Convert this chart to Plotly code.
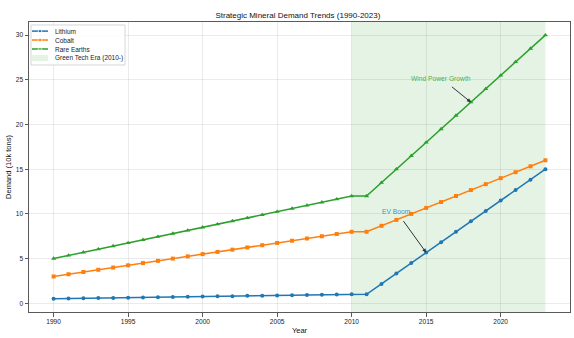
import plotly.graph_objects as go

years = list(range(1990, 2024))
lithium = [0.5, 0.53, 0.55, 0.58, 0.6, 0.63, 0.65, 0.68, 0.7, 0.73, 0.75, 0.78, 0.8, 0.83, 0.85,
           0.88, 0.9, 0.93, 0.95, 0.98, 1.0, 1.0,
           2.17, 3.33, 4.5, 5.67, 6.83, 8.0, 9.17, 10.33, 11.5, 12.67, 13.83, 15.0]
cobalt = [3.0, 3.25, 3.5, 3.75, 4.0, 4.25, 4.5, 4.75, 5.0, 5.25, 5.5, 5.75, 6.0, 6.25, 6.5,
          6.75, 7.0, 7.25, 7.5, 7.75, 8.0, 8.0,
          8.67, 9.33, 10.0, 10.67, 11.33, 12.0, 12.67, 13.33, 14.0, 14.67, 15.33, 16.0]
rare_earths = [5.0, 5.35, 5.7, 6.05, 6.4, 6.75, 7.1, 7.45, 7.8, 8.15, 8.5, 8.85, 9.2, 9.55, 9.9,
               10.25, 10.6, 10.95, 11.3, 11.65, 12.0, 12.0,
               13.5, 15.0, 16.5, 18.0, 19.5, 21.0, 22.5, 24.0, 25.5, 27.0, 28.5, 30.0]
series_names = ["Lithium", "Cobalt", "Rare Earths"]
era_label = "Green Tech Era (2010-)"
era_start, era_end = 2010, 2023
x_ticks = [1990, 1995, 2000, 2005, 2010, 2015, 2020]
y_ticks = [0, 5, 10, 15, 20, 25, 30]

colors = ["#1f77b4", "#ff7f0e", "#2ca02c"]
symbols = ["circle", "square", "triangle-up"]
msizes = [4, 4, 4.5]
shade = "rgba(44,160,44,0.12)"

xr = [1988.35, 2024.65]
yr = [-0.975, 31.475]

FONT = "Liberation Sans, Arial, sans-serif"
fig = go.Figure()

# shaded era (first so it sits under the lines)
fig.add_trace(go.Scatter(x=[era_start, era_end, era_end, era_start, era_start],
                         y=[yr[0], yr[0], yr[1], yr[1], yr[0]],
                         name=era_label, mode="lines", fill="toself",
                         fillcolor=shade, line=dict(width=0),
                         hoverinfo="skip", showlegend=False))

for name, vals, c, s, ms in zip(series_names, [lithium, cobalt, rare_earths], colors, symbols, msizes):
    fig.add_trace(go.Scatter(x=years, y=vals, name=name, mode="lines+markers",
                             line=dict(color=c, width=1.5),
                             marker=dict(symbol=s, size=ms, color=c), showlegend=False))

# ---- compact legend, drawn on an overlay axis spanning [0, 1] of the plot area ----
row_y = [0.9686, 0.9379, 0.9069, 0.8759]
lx0, lx1, lxm, ltx = 0.0055, 0.0351, 0.0203, 0.0444
bx0, bx1, by0, by1 = 0.0037, 0.1775, 0.8517, 0.9897
fig.add_trace(go.Scatter(x=[bx0, bx1, bx1, bx0, bx0], y=[by0, by0, by1, by1, by0],
                         mode="lines", fill="toself", fillcolor="rgba(255,255,255,0.85)",
                         line=dict(color="#d6d6d6", width=1), xaxis="x2", yaxis="y2",
                         hoverinfo="skip", showlegend=False))
for i, (c, s, ms) in enumerate(zip(colors, symbols, msizes)):
    fig.add_trace(go.Scatter(x=[lx0, lxm, lx1], y=[row_y[i]] * 3, mode="lines+markers",
                             line=dict(color=c, width=1.5),
                             marker=dict(symbol=s, size=[0, ms - 0.5, 0], color=c),
                             xaxis="x2", yaxis="y2", hoverinfo="skip", showlegend=False))
dy = 0.0105
fig.add_trace(go.Scatter(x=[lx0, lx1, lx1, lx0, lx0],
                         y=[row_y[3] - dy, row_y[3] - dy, row_y[3] + dy, row_y[3] + dy, row_y[3] - dy],
                         mode="lines", fill="toself", fillcolor=shade, line=dict(width=0),
                         xaxis="x2", yaxis="y2", hoverinfo="skip", showlegend=False))
for i, name in enumerate(series_names + [era_label]):
    fig.add_annotation(xref="x2", yref="y2", x=ltx, y=row_y[i], text=name,
                       showarrow=False, xanchor="left", yanchor="middle",
                       font=dict(family=FONT, size=6.5, color="#222222"))

# ---- annotations ----
i_w = years.index(2018)
i_e = years.index(2015)
fig.add_annotation(x=2018, y=rare_earths[i_w], ax=2016, ay=25.2, axref="x", ayref="y",
                   text="Wind Power Growth", showarrow=True, arrowhead=2, arrowsize=0.8,
                   arrowwidth=1, arrowcolor="#333333", standoff=0, startstandoff=6,
                   font=dict(family=FONT, size=6.7, color="rgba(44,160,44,0.85)"))
fig.add_annotation(x=2015, y=lithium[i_e], ax=2013, ay=10.3, axref="x", ayref="y",
                   text="EV Boom", showarrow=True, arrowhead=2, arrowsize=0.8,
                   arrowwidth=1, arrowcolor="#333333", standoff=0, startstandoff=6,
                   font=dict(family=FONT, size=6.7, color="rgba(31,119,180,0.85)"))

axis_common = dict(showline=True, linecolor="#5a5a5a", linewidth=1, mirror=True,
                   showgrid=True, gridcolor="rgba(0,0,0,0.08)", gridwidth=1,
                   ticks="outside", ticklen=3.5, tickcolor="#5a5a5a", zeroline=False,
                   tickfont=dict(family=FONT, size=6.6, color="#222222"))
fig.update_xaxes(range=xr, tickvals=x_ticks, title=dict(text="Year", standoff=3,
                 font=dict(family=FONT, size=7.5, color="#111111")), **axis_common)
fig.update_yaxes(range=yr, tickvals=y_ticks, title=dict(text="Demand (10k tons)", standoff=3,
                 font=dict(family=FONT, size=7.5, color="#111111")), **axis_common)

fig.update_layout(
    width=574, height=338,
    margin=dict(l=29, r=4, t=22, b=26),
    paper_bgcolor="white", plot_bgcolor="white",
    xaxis2=dict(overlaying="x", range=[0, 1], visible=False, fixedrange=True),
    yaxis2=dict(overlaying="y", range=[0, 1], visible=False, fixedrange=True),
    title=dict(text="Strategic Mineral Demand Trends (1990-2023)", x=0.519, xanchor="center",
               y=0.954, yanchor="middle", font=dict(family=FONT, size=8, color="#111111")),
    showlegend=False,
)

fig.write_html("out.html")
